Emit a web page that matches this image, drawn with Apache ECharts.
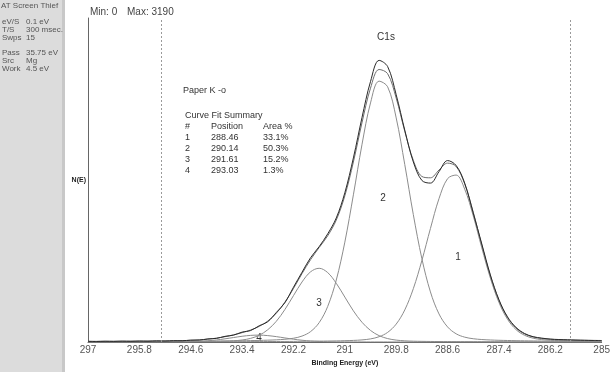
<!DOCTYPE html>
<html>
<head>
<meta charset="utf-8">
<script src="https://cdn.jsdelivr.net/npm/echarts@6/dist/echarts.min.js"></script>
<style>
html,body{margin:0;padding:0;background:#fff;}
#chart{width:613px;height:372px;}
</style>
</head>
<body>
<div id="chart"></div>
<script>
// Binding energy grid (eV)
const be = [297.0,296.8,296.6,296.4,296.2,296.0,295.8,295.6,295.4,295.2,295.0,294.8,294.6,294.4,294.2,294.0,293.8,293.6,293.4,293.2,293.0,292.8,292.6,292.4,292.2,292.0,291.8,291.6,291.4,291.2,291.0,290.8,290.6,290.4,290.2,290.0,289.8,289.6,289.4,289.2,289.0,288.8,288.6,288.4,288.2,288.0,287.8,287.6,287.4,287.2,287.0,286.8,286.6,286.4,286.2,286.0,285.8,285.6,285.4,285.2,285.0];
// Component 1 (288.46)
const comp1 = [1.4,1.5,1.5,1.6,1.6,1.7,1.8,2.0,2.1,2.2,2.3,2.5,2.7,2.8,3.0,3.2,3.4,3.7,4.0,4.35,4.7,5.2,5.7,6.2,6.9,7.7,8.6,9.6,10.9,12.4,14.7,17.9,23.6,35.2,59.7,109,203,363,604,923,1286,1624,1850,1891,1732,1429,1066,724,449,258,140,75.6,42.9,27.3,19.8,15.8,13.1,11.5,10.1,9.0,8.0];
// Component 2 (290.14)
const comp2 = [3.3,3.5,3.7,3.9,4.2,4.5,4.8,5.1,5.5,6.0,6.5,7.0,7.6,8.4,9.2,10.1,11.2,12.5,14.0,15.8,18.0,20.8,24.6,30.9,42.6,67.1,118,219,403,702,1131,1667,2234,2708,2955,2891,2538,2011,1443,944,567,318,171,93,55,37,28,22.9,19.4,17.0,15.0,13.4,12.0,10.8,9.7,8.9,8.1,7.4,6.8,6.3,5.8];
// Component 3 (291.61)
const comp3 = [1.5,1.6,1.7,1.9,2.0,2.2,2.4,2.7,2.9,3.3,3.7,4.1,4.6,5.3,6.2,7.4,9.6,13.8,22.7,41.1,76.6,139,235,368,525,680,795,835,786,665,509,353,224,131,72,38.7,21.5,13.3,9.3,7.3,6.1,5.2,4.6,4.1,3.6,3.3,2.9,2.6,2.4,2.2,2.0,1.9,1.7,1.6,1.5,1.4,1.3,1.25,1.2,1.1,1.0];
// Component 4 (293.03)
const comp4 = [0.4,0.4,0.4,0.45,0.5,0.55,0.6,0.7,0.8,0.9,1.35,2.2,4.1,7.6,13.7,23.1,35.8,50.6,64.8,75,78,72.5,60.8,46.0,31.7,19.9,11.5,6.3,3.4,1.9,1.2,0.9,0.8,0.7,0.6,0.55,0.5,0.5,0.45,0.4,0.4,0.4,0.35,0.35,0.3,0.3,0.3,0.3,0.3,0.25,0.25,0.25,0.25,0.2,0.2,0.2,0.2,0.2,0.2,0.2,0.2];
// Fit envelope
const envelope = [6.6,7.0,7.3,7.9,8.3,9.0,9.6,10.5,11.3,12.4,13.9,15.8,19.0,24.1,32.1,43.8,60.0,80.6,105.5,136,177,237.5,326,451,606,775,933,1070,1203,1381,1656,2039,2482,2875,3087,3039,2763,2388,2057,1875,1860,1948,2026,1988,1791,1470,1097,750,471,277,157,91,57,40,31,26,23,20,18,17,15];
// Measured spectrum
const measured = [8,6,9,7,10,8,11,9,13,11,15,14,21,22,35,41,64,78,112,130,184,230,335,445,620,790,955,1080,1225,1405,1690,2085,2540,2950,3190,3120,2800,2400,2040,1830,1800,1930,2055,2000,1800,1460,1110,760,480,285,165,96,60,44,33,28,25,22,20,18,17];
// Fit region bounds (eV)
const regionBounds = [295.28, 285.74];
// Axis tick labels
const xTicks = [297, 295.8, 294.6, 293.4, 292.2, 291, 289.8, 288.6, 287.4, 286.2, 285];
// Curve fit summary
const peakIds = ['1','2','3','4'];
const peakPositions = ['288.46','290.14','291.61','293.03'];
const peakAreas = ['33.1%','50.3%','15.2%','1.3%'];
// Acquisition parameters
const paramNames = ['eV/S','T/S','Swps','Pass','Src','Work'];
const paramValues = ['0.1 eV','300 msec.','15','35.75 eV','Mg','4.5 eV'];

const pairs = arr => be.map((x, i) => [x, arr[i]]);
const FONT = 'Liberation Sans, Arial, sans-serif';

const chart = echarts.init(document.getElementById('chart'), null, {renderer: 'canvas'});

const compStyle = {color: '#8c8c8c', width: 1};
function lineSeries(name, arr, color, width, z) {
  return {
    name: name, type: 'line', data: pairs(arr), showSymbol: false, symbol: 'none',
    smooth: 0.35, lineStyle: {color: color, width: width}, itemStyle: {color: color},
    z: z, silent: true
  };
}

const series = [
  lineSeries('1', comp1, '#8c8c8c', 1, 2),
  lineSeries('2', comp2, '#8c8c8c', 1, 2),
  lineSeries('3', comp3, '#8c8c8c', 1, 2),
  lineSeries('4', comp4, '#8c8c8c', 1, 2),
  lineSeries('fit', envelope, '#6e6e6e', 1, 3),
  lineSeries('data', measured, '#2a2a2a', 1, 4)
];
series[0].markLine = {
  silent: true, symbol: 'none', label: {show: false},
  lineStyle: {color: '#9a9a9a', type: [2, 2], width: 1},
  data: regionBounds.map(v => ({xAxis: v}))
};

// graphic texts
const graphics = [];
graphics.push({type: 'rect', shape: {x: 0, y: 0, width: 63, height: 372}, style: {fill: '#dcdcdc'}, silent: true});
graphics.push({type: 'rect', shape: {x: 62, y: 0, width: 3, height: 372}, style: {fill: '#c8c8c8'}, silent: true});
graphics.push({type: 'text', x: 1, y: 6, style: {text: 'AT Screen Thief', font: '8px ' + FONT, fill: '#555', verticalAlign: 'middle'}});
const paramY = [22, 30, 38, 53, 61, 69];
paramNames.forEach((n, i) => {
  graphics.push({type: 'text', x: 2, y: paramY[i], style: {text: n, font: '8px ' + FONT, fill: '#555', verticalAlign: 'middle'}});
  graphics.push({type: 'text', x: 26, y: paramY[i], style: {text: paramValues[i], font: '8px ' + FONT, fill: '#555', verticalAlign: 'middle'}});
});
graphics.push({type: 'text', x: 90, y: 12, style: {text: 'Min: 0', font: '10px ' + FONT, fill: '#444', verticalAlign: 'middle'}});
graphics.push({type: 'text', x: 127, y: 12, style: {text: 'Max: 3190', font: '10px ' + FONT, fill: '#444', verticalAlign: 'middle'}});
graphics.push({type: 'text', x: 386, y: 37, style: {text: 'C1s', font: '10px ' + FONT, fill: '#333', align: 'center', verticalAlign: 'middle'}});
graphics.push({type: 'text', x: 183, y: 91, style: {text: 'Paper K -o', font: '9px ' + FONT, fill: '#333', verticalAlign: 'middle'}});
graphics.push({type: 'text', x: 185, y: 116, style: {text: 'Curve Fit Summary', font: '9px ' + FONT, fill: '#333', verticalAlign: 'middle'}});
graphics.push({type: 'text', x: 185, y: 127, style: {text: '#', font: '9px ' + FONT, fill: '#333', verticalAlign: 'middle'}});
graphics.push({type: 'text', x: 211, y: 127, style: {text: 'Position', font: '9px ' + FONT, fill: '#333', verticalAlign: 'middle'}});
graphics.push({type: 'text', x: 263, y: 127, style: {text: 'Area %', font: '9px ' + FONT, fill: '#333', verticalAlign: 'middle'}});
const rowY = [138, 149, 160, 171];
peakIds.forEach((p, i) => {
  graphics.push({type: 'text', x: 185, y: rowY[i], style: {text: p, font: '9px ' + FONT, fill: '#333', verticalAlign: 'middle'}});
  graphics.push({type: 'text', x: 211, y: rowY[i], style: {text: peakPositions[i], font: '9px ' + FONT, fill: '#333', verticalAlign: 'middle'}});
  graphics.push({type: 'text', x: 263, y: rowY[i], style: {text: peakAreas[i], font: '9px ' + FONT, fill: '#333', verticalAlign: 'middle'}});
});
const peakLabelPos = [[458, 257], [383, 198], [319, 303], [259, 338]];
peakIds.forEach((p, i) => {
  graphics.push({type: 'text', x: peakLabelPos[i][0], y: peakLabelPos[i][1], style: {text: p, font: '10px ' + FONT, fill: '#333', align: 'center', verticalAlign: 'middle'}});
});

chart.setOption({
  animation: false,
  backgroundColor: '#fff',
  grid: {left: 88, right: 8, top: 18, bottom: 24, containLabel: false},
  xAxis: {
    type: 'value', min: 285, max: 297, inverse: true,
    name: 'Binding Energy (eV)', nameLocation: 'middle', nameGap: 18,
    nameTextStyle: {fontFamily: FONT, fontSize: 7, fontWeight: 'bold', color: '#222'},
    axisLine: {show: true, onZero: false, lineStyle: {color: '#666', width: 1}},
    axisTick: {show: false},
    splitLine: {show: false},
    axisLabel: {
      customValues: xTicks, showMinLabel: true, showMaxLabel: true,
      fontFamily: FONT, fontSize: 10, color: '#555', margin: 3
    }
  },
  yAxis: {
    type: 'value', min: 0, max: 3670,
    name: 'N(E)', nameLocation: 'middle', nameGap: 2, nameRotate: 0,
    nameTextStyle: {fontFamily: FONT, fontSize: 7, fontWeight: 'bold', color: '#222', align: 'right'},
    axisLine: {show: true, lineStyle: {color: '#666', width: 1}},
    axisTick: {show: false},
    axisLabel: {show: false},
    splitLine: {show: false}
  },
  series: series,
  graphic: graphics
});
</script>
</body>
</html>
